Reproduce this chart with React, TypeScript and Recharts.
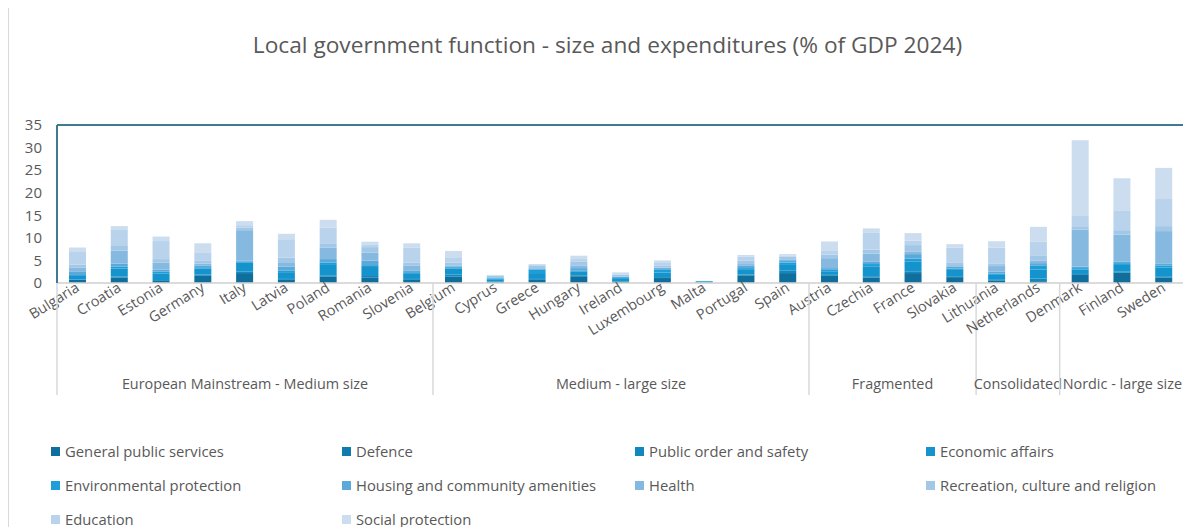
import React from "react";
import { BarChart, Bar, XAxis, YAxis, CartesianGrid, ReferenceLine } from "recharts";

const countries = ["Bulgaria","Croatia","Estonia","Germany","Italy","Latvia","Poland","Romania","Slovenia","Belgium","Cyprus","Greece","Hungary","Ireland","Luxembourg","Malta","Portugal","Spain","Austria","Czechia","France","Slovakia","Lithuania","Netherlands","Denmark","Finland","Sweden"];
const groupNames = ["European Mainstream - Medium size","Medium - large size","Fragmented","Consolidated","Nordic - large size"];
const groupSizes = [9, 9, 4, 2, 3];

const generalPublicServices = [0.66,1.2,0.44,1.6,2.2,0.7,1.4,1.25,0.7,1.4,0.2,0.7,1.5,0.3,1.1,0.1,1.7,2.2,1.6,1.2,2.2,1.3,0.5,0.4,1.8,2.3,1.2];
const defence = [0,0,0,0,0,0,0,0,0,0,0,0,0,0,0,0,0,0,0,0,0,0,0,0,0,0,0];
const publicOrder = [0.1,0.2,0.2,0.3,0.3,0.2,0.3,0.3,0.2,0.5,0.1,0.2,0.2,0.1,0.2,0,0.2,0.6,0.2,0.3,0.4,0.2,0.2,0.6,0.2,0.2,0.3];
const economicAffairs = [0.8,1.8,1.5,1.3,2.0,1.5,2.3,2.2,1.1,1.3,0.4,1.3,0.8,0.5,1.0,0.2,1.0,1.2,0.8,2.2,2.2,1.4,1.1,2.0,1.0,1.5,1.9];
const environmental = [0.2,0.4,0.35,0.3,0.2,0.3,0.5,0.2,0.2,0.3,0.3,0.8,0.2,0.2,0.6,0.15,0.4,0.55,0.3,0.5,0.6,0.25,0.25,0.8,0.3,0.4,0.5];
const housing = [0.7,0.7,0.5,0.4,0.3,0.9,0.8,1.0,0.6,0.2,0.2,0.2,0.6,0.3,0.4,0,0.6,0.5,0.4,0.5,1.0,0.5,0.5,0.6,0.3,0.3,0.45];
const health = [1.0,2.9,1.5,0.4,6.7,1.0,2.5,1.8,1.0,0.2,0.1,0.1,0.5,0.05,0.1,0,0.3,0.2,2.2,1.8,0.5,0.3,1.2,0.6,8.2,6.0,7.15];
const recreation = [0.6,1.0,0.8,0.6,0.6,1.0,1.0,1.2,0.7,0.6,0.3,0.5,0.9,0.4,0.5,0,0.8,0.6,0.8,0.9,1.5,0.5,0.6,1.0,0.6,1.0,1.1];
const education = [2.8,3.7,4.0,1.9,0.5,4.1,3.5,0.6,3.3,1.2,0.1,0.2,0.6,0.1,0.7,0,0.8,0.2,0.8,3.7,1.0,3.35,3.5,3.2,2.6,4.4,6.0];
const socialProtection = [1.0,0.7,1.0,2.0,0.9,1.2,1.7,0.6,1.0,1.4,0.1,0.2,0.75,0.4,0.4,0,0.4,0.35,2.1,1.0,1.65,0.8,1.4,3.25,16.6,7.1,6.9];
const yTicks = [0,5,10,15,20,25,30,35];

const series = [
  { key: "gps", name: "General public services", values: generalPublicServices, color: "#0f6e9c" },
  { key: "def", name: "Defence", values: defence, color: "#0f7cad" },
  { key: "pos", name: "Public order and safety", values: publicOrder, color: "#1287bd" },
  { key: "eco", name: "Economic affairs", values: economicAffairs, color: "#1593cc" },
  { key: "env", name: "Environmental protection", values: environmental, color: "#1c9fd8" },
  { key: "hou", name: "Housing and community amenities", values: housing, color: "#5ca9d9" },
  { key: "hea", name: "Health", values: health, color: "#86b9e0" },
  { key: "rec", name: "Recreation, culture and religion", values: recreation, color: "#a3c7e7" },
  { key: "edu", name: "Education", values: education, color: "#b8d3eb" },
  { key: "soc", name: "Social protection", values: socialProtection, color: "#cbddef" },
];

const data = countries.map((c, i) => {
  const row: any = { country: c };
  series.forEach((s) => { row[s.key] = s.values[i]; });
  return row;
});

const groupStarts: number[] = [];
{
  let acc = 0;
  groupSizes.forEach((n) => { groupStarts.push(acc); acc += n; });
}

const CHART_W = 1183;
const CHART_H = 519;
const MARGIN = { top: 117, right: 7, left: 8, bottom: 0 };
const Y_W = 40;
const PLOT_W = CHART_W - MARGIN.left - MARGIN.right - Y_W;
const STEP = PLOT_W / countries.length;
const FONT = "'Open Sans', sans-serif";
const TXT = "#595959";

const CountryTick = (props: any) => {
  const { x, y, payload } = props;
  const i = payload.index;
  const els: any[] = [];
  const ax = x - 4;
  const ay = y - 9;
  els.push(
    <text key="l" x={ax} y={ay} transform={`rotate(-32, ${ax}, ${ay})`} textAnchor="end" dominantBaseline="hanging" fontSize={14.5} fill={TXT} fontFamily={FONT}>
      {payload.value}
    </text>
  );
  const gi = groupStarts.indexOf(i);
  if (gi >= 0) {
    const lx = x - STEP / 2;
    els.push(<line key="s" x1={lx} x2={lx} y1={y - 6} y2={y + 106} stroke="#d9d9d9" strokeWidth={1.5} />);
    const size = groupSizes[gi];
    const cx = lx + (size * STEP) / 2;
    els.push(
      <text key="g" x={cx} y={y + 96} textAnchor="middle" dominantBaseline="middle" fontSize={14.4} fill={TXT} fontFamily={FONT}>
        {groupNames[gi]}
      </text>
    );
  }
  if (i === countries.length - 1) {
    const rx = x + STEP / 2;
    els.push(<line key="e" x1={rx} x2={rx} y1={y - 6} y2={y + 106} stroke="#d9d9d9" strokeWidth={1.5} />);
  }
  return <g>{els}</g>;
};

export default function App() {
  return (
    <div style={{ position: "relative", width: CHART_W, height: CHART_H, borderLeft: "1px solid #d9d9d9", fontFamily: FONT, background: "#fff" }}>
      <div style={{ position: "absolute", left: 7, width: CHART_W, top: 21, textAlign: "center", fontSize: 22.7, color: TXT }}>
        Local government function - size and expenditures (% of GDP 2024)
      </div>
      <BarChart width={CHART_W} height={CHART_H} data={data} margin={MARGIN} barSize={17} barGap={0}>
        <CartesianGrid vertical={false} stroke="#d9d9d9" strokeWidth={1.5} />
        <XAxis dataKey="country" interval={0} tickLine={false} tickMargin={0} height={CHART_H - MARGIN.top - 158} axisLine={{ stroke: "#d9d9d9", strokeWidth: 1.5 }} tick={<CountryTick />} />
        <YAxis yAxisId="l" domain={[0, 35]} ticks={yTicks} width={Y_W} tickLine={false} tickMargin={9} axisLine={{ stroke: "#3f7a93", strokeWidth: 2 }} tick={{ fill: TXT, fontSize: 15, fontFamily: FONT }} interval={0} />
        <YAxis yAxisId="r" orientation="right" domain={[0, 35]} width={0} tick={false} tickLine={false} axisLine={{ stroke: "#3f7a93", strokeWidth: 2 }} />
        <ReferenceLine yAxisId="l" y={35} stroke="#3f7a93" strokeWidth={2} />
        {series.map((s) => (
          <Bar key={s.key} yAxisId="l" dataKey={s.key} name={s.name} stackId="a" fill={s.color} isAnimationActive={false} />
        ))}
      </BarChart>
      <div style={{ position: "absolute", left: 42, top: 426, width: 1140, display: "grid", gridTemplateColumns: "291px 293px 291px 260px", rowGap: 0 }}>
        {series.map((s) => (
          <div key={s.key} style={{ display: "flex", alignItems: "center", height: 34, fontSize: 14.8, color: TXT, whiteSpace: "nowrap" }}>
            <span style={{ display: "inline-block", width: 9, height: 9, background: s.color, marginRight: 5 }} />
            {s.name}
          </div>
        ))}
      </div>
    </div>
  );
}
